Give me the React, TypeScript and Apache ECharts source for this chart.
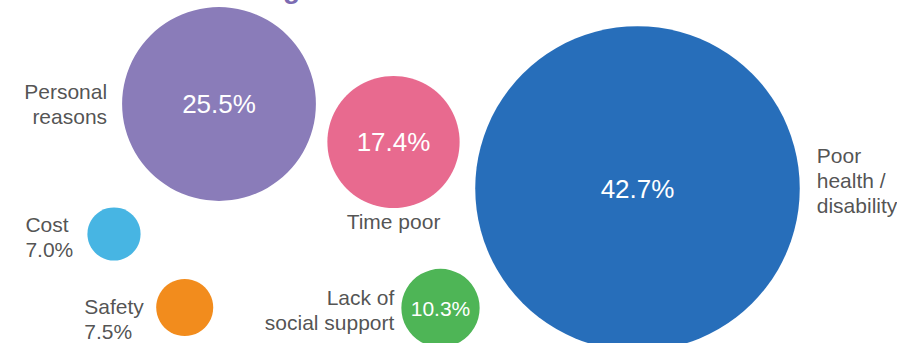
import React, { useEffect, useRef } from "react";
import * as echarts from "echarts";

// Data
const categories = ["Personal reasons", "Time poor", "Poor health / disability", "Cost", "Safety", "Lack of social support"];
const shares = [25.5, 17.4, 42.7, 7.0, 7.5, 10.3];
const colors = ["#8A7CB9", "#E86A8F", "#276EBA", "#47B5E3", "#F28C1D", "#4EB556"];
// which bubbles carry their value inside
const valueInside = [true, true, true, false, false, true];
// layout position of each bubble (x, y on a 897 x 343 plane)
const layoutX = [219, 393.5, 637.5, 114, 184.7, 440.5];
const layoutY = [104, 142, 188.5, 234, 307.5, 308];

const RADIUS_PER_PCT = 3.8;

export default function App() {
  const ref = useRef<HTMLDivElement>(null);
  useEffect(() => {
    document.body.style.margin = "0";
    const chart = echarts.init(ref.current!, null, { renderer: "svg" });
    const font = "Liberation Sans, Arial, sans-serif";
    const outer = { color: "#262626", fontSize: 21, lineHeight: 25, fontFamily: font };
    const data = categories.map((name, i) => ({
      name,
      value: [layoutX[i], layoutY[i], shares[i]],
      symbolSize: shares[i] * RADIUS_PER_PCT * 2,
      itemStyle: { color: colors[i], opacity: 1 },
      label: {
        show: valueInside[i],
        position: "inside",
        color: "#ffffff",
        fontFamily: font,
        fontSize: shares[i] < 12 ? 21 : 26,
        formatter: () => shares[i].toFixed(1) + "%",
      },
    }));
    // outside labels as a second, label-only series over the same points
    const outerLabels: any[] = [
      { position: "left", distance: 15, align: "right", text: "Personal\nreasons" },
      { position: "bottom", distance: 1, align: "center", text: "Time poor" },
      { position: "right", distance: 17, align: "left", text: "Poor\nhealth /\ndisability", offset: [0, -8] },
      { position: [-62, 30], align: "left", verticalAlign: "middle", text: "Cost\n7.0%" },
      { position: [-72, 40], align: "left", verticalAlign: "middle", text: "Safety\n7.5%" },
      { position: "left", distance: 7, align: "right", text: "Lack of\nsocial support", offset: [0, 2] },
    ];
    const labelData = categories.map((name, i) => {
      const o = outerLabels[i];
      return {
        name,
        value: [layoutX[i], layoutY[i], shares[i]],
        symbolSize: shares[i] * RADIUS_PER_PCT * 2,
        itemStyle: { color: "rgba(0,0,0,0)" },
        label: {
          show: true,
          ...outer,
          position: o.position,
          distance: o.distance,
          align: o.align,
          verticalAlign: o.verticalAlign,
          offset: o.offset,
          formatter: () => o.text,
        },
      };
    });
    chart.setOption({
      animation: false,
      grid: { left: 0, right: 0, top: 0, bottom: 0 },
      xAxis: { type: "value", min: 0, max: 897, show: false },
      yAxis: { type: "value", min: 0, max: 343, inverse: true, show: false },
      graphic: [
        {
          type: "text",
          left: 283,
          top: -26,
          style: { text: "g", fill: "#7C6BB2", fontSize: 28, fontWeight: "bold", fontFamily: font },
        },
      ],
      series: [
        { type: "scatter", symbol: "circle", data, silent: true, z: 2 },
        { type: "scatter", symbol: "circle", data: labelData, silent: true, z: 3 },
      ],
    });
    return () => chart.dispose();
  }, []);
  return <div ref={ref} style={{ width: 897, height: 343 }} />;
}
